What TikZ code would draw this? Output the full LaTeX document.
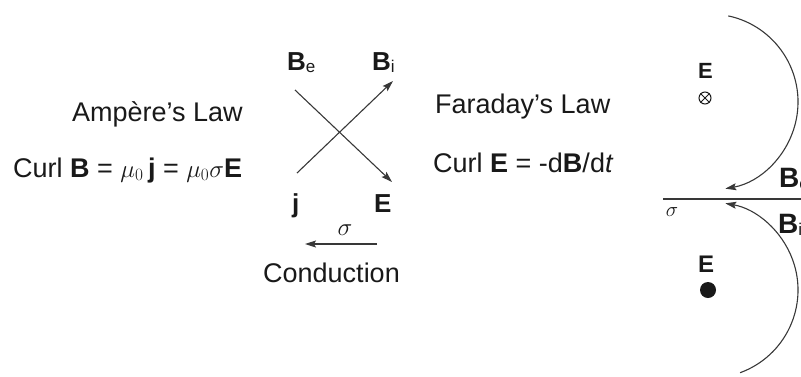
\documentclass[tikz,border=0pt]{standalone}
\usepackage{fontspec}
\setmainfont{Liberation Sans}
\usetikzlibrary{arrows.meta}
\definecolor{ink}{gray}{0.1}
\definecolor{linec}{gray}{0.22}
\begin{document}
\begin{tikzpicture}[x=1pt,y=-1pt,
  lbl/.style={inner sep=0pt, anchor=base west, text=ink, font=\fontsize{27}{32}\selectfont},
  sym/.style={inner sep=0pt, anchor=base west, text=ink, font=\fontsize{26}{30}\selectfont\bfseries},
  smallsym/.style={inner sep=0pt, anchor=base west, text=ink, font=\fontsize{22}{26}\selectfont\bfseries},
  arr/.style={draw=linec, line width=1.1pt, -{Stealth[length=11pt,width=7pt,inset=2pt]}},
  arcarr/.style={draw=linec, line width=1.1pt, -{Stealth[length=11pt,width=7pt,inset=2pt]}},
  ]
\useasboundingbox (0,0) rectangle (801,376);
\clip (0,0) rectangle (801,376);

% left: Ampere
\node[lbl] (amp) at (72,121) {Ampère’s Law};
\node[lbl] (curlB) at (13,177) {Curl \textbf{B} = $\mu_0$\,\textbf{j} = $\mu_0\sigma$\textbf{E}};

% centre cross
\node[sym] (Be) at (287,70) {B{\fontsize{17}{20}\selectfont\mdseries\raisebox{-2pt}{e}}};
\node[sym] (Bi) at (372,70) {B{\fontsize{17}{20}\selectfont\mdseries\raisebox{-2pt}{i}}};
\node[sym] (j) at (292,212) {j};
\node[sym] (E) at (374,212) {E};
\coordinate (BeTail) at (295,90);
\coordinate (Etip) at (392,182);
\coordinate (jTail) at (297,173);
\coordinate (Bitip) at (393,81);
\draw[arr] (BeTail) -- (Etip);
\draw[arr] (jTail) -- (Bitip);

% conduction
\node[inner sep=0pt, anchor=base, text=ink, font=\fontsize{26}{30}\selectfont] (sig) at (345,235) {$\sigma$};
\coordinate (cS) at (377,244);
\coordinate (cE) at (305,244);
\draw[arr] (cS) -- (cE);
\node[lbl] (cond) at (263,282) {Conduction};

% Faraday
\node[lbl] (far) at (435,113) {Faraday’s Law};
\node[lbl] (curlE) at (433,172) {Curl \textbf{E} = -d\textbf{B}/d\textit{t}};

% right: sheet
\coordinate (hl) at (663,199);
\coordinate (hr) at (801,199);
\draw[draw=linec, line width=1.2pt] (hl) -- (hr);
\node[inner sep=0pt, anchor=base, text=ink, font=\fontsize{20}{24}\selectfont] (sig2) at (672,216) {$\sigma$};

\node[smallsym] (Eup) at (698,78) {E};
\node[draw=ink, circle, line width=1pt, minimum size=12pt, inner sep=0pt] (cross) at (705,98) {};
\draw[ink, line width=0.9pt] (cross.north east) -- (cross.south west) (cross.north west) -- (cross.south east);
\node[smallsym, font=\fontsize{24}{28}\selectfont\bfseries] (Edn) at (698,272) {E};
\node[fill=ink, circle, minimum size=16pt, inner sep=0pt] (dot) at (708,290) {};

\coordinate (topS) at (728.3,15.9);
\draw[arcarr] (topS) arc[start angle=-78, end angle=80, radius=88];
\coordinate (botS) at (740.1,372.7);
\draw[arcarr] (botS) arc[start angle=70, end angle=-80, radius=88];

\node[sym, font=\fontsize{28}{32}\selectfont\bfseries] (Bru) at (779,187) {B{\fontsize{17}{20}\selectfont\mdseries\raisebox{-2pt}{e}}};
\node[sym, font=\fontsize{28}{32}\selectfont\bfseries] (Brd) at (778,233) {B{\fontsize{17}{20}\selectfont\mdseries\raisebox{-2pt}{i}}};
\end{tikzpicture}
\end{document}
